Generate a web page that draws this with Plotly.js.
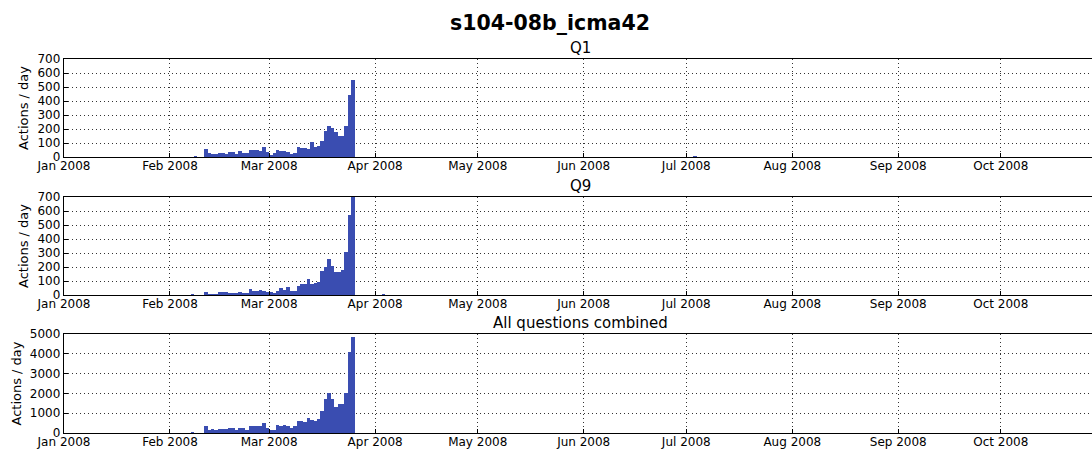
<!DOCTYPE html>
<html><head><meta charset="utf-8">
<script src="https://cdn.plot.ly/plotly-3.0.1.min.js"></script>
<style>html,body{margin:0;padding:0;overflow:hidden;background:#fff;width:1092px;height:450px}#chart{width:1100px;height:450px}</style>
</head><body><div id="chart"></div>
<script>
const days = ['2008-02-07','2008-02-08',
 '2008-02-11','2008-02-12','2008-02-13','2008-02-14','2008-02-15','2008-02-16','2008-02-17','2008-02-18','2008-02-19','2008-02-20',
 '2008-02-21','2008-02-22','2008-02-23','2008-02-24','2008-02-25','2008-02-26','2008-02-27','2008-02-28','2008-02-29',
 '2008-03-01','2008-03-02','2008-03-03','2008-03-04','2008-03-05','2008-03-06','2008-03-07','2008-03-08','2008-03-09','2008-03-10',
 '2008-03-11','2008-03-12','2008-03-13','2008-03-14','2008-03-15','2008-03-16','2008-03-17','2008-03-18','2008-03-19','2008-03-20',
 '2008-03-21','2008-03-22','2008-03-23','2008-03-24','2008-03-25',
 '2008-03-27','2008-04-03','2008-07-03','2008-09-27'];
const q1 = [0, 8,
 56, 29, 22, 22, 27, 29, 22, 37, 37, 25, 44, 27, 32, 51, 51, 49, 46, 73, 39,
 12, 27, 52, 45, 40, 37, 22, 30, 75, 62, 62, 60, 110, 72, 77, 115, 187, 225, 207, 177, 152, 152, 220, 440, 547,
 0, 0, 4, 0];
const q9 = [7, 0,
 22, 10, 10, 10, 25, 25, 22, 17, 12, 15, 25, 17, 12, 40, 30, 32, 35, 32, 25,
 25, 12, 30, 47, 35, 60, 32, 32, 62, 77, 77, 112, 82, 87, 95, 172, 202, 255, 210, 162, 167, 182, 310, 570, 698,
 0, 4, 0, 0];
const combined = [35, 0,
 360, 155, 207, 155, 190, 190, 207, 260, 275, 172, 275, 260, 155, 345, 345, 345, 360, 500, 240,
 150, 150, 390, 355, 405, 355, 255, 340, 630, 630, 575, 745, 645, 610, 730, 1120, 1700, 2020, 1730, 1305, 1460, 1475, 2020, 4070, 4850,
 25, 20, 0, 20];
const panelTitles = ['Q1', 'Q9', 'All questions combined'];
const mainTitle = 's104-08b_icma42';
const yTitle = 'Actions / day';

const H = 450, W = 1100;
const barColor = '#3a4db1';
const DAY = 86400000;
const fontFam = 'DejaVu Sans, sans-serif';
const panels = [
  {vals: q1, top: 59, bot: 157, max: 700, dtick: 100},
  {vals: q9, top: 197, bot: 295, max: 700, dtick: 100},
  {vals: combined, top: 334, bot: 433, max: 5000, dtick: 1000}
];
const traces = [];
const layout = {
  width: W, height: H,
  margin: {l: 0, r: 0, t: 0, b: 0},
  paper_bgcolor: '#fff', plot_bgcolor: '#fff',
  showlegend: false, bargap: 0,
  font: {family: fontFam, size: 12, color: '#000'},
  title: {text: '<b>' + mainTitle + '</b>', x: 0.5, xref: 'paper', xanchor: 'center',
          y: 1 - 23 / H, yref: 'container', yanchor: 'middle',
          font: {family: fontFam, size: 20.5, color: '#000'}},
  annotations: []
};
const xd = [64 / W, 1096 / W];
const gridDash = '1px,3px';
panels.forEach((p, i) => {
  const n = i === 0 ? '' : String(i + 1);
  traces.push({
    type: 'bar', x: days, y: p.vals, xaxis: 'x' + n, yaxis: 'y' + n,
    width: days.map(() => DAY), offset: 0,
    marker: {color: barColor, line: {width: 0}}, hoverinfo: 'x+y'
  });
  const dom = [1 - p.bot / H, 1 - p.top / H];
  layout['xaxis' + n] = {
    domain: xd, anchor: 'y' + n, type: 'date',
    range: ['2008-01-01', '2008-10-28 20:00'],
    tick0: '2008-01-01', dtick: 'M1', tickformat: '%b %Y',
    ticks: 'inside', ticklen: 4, tickcolor: '#000', ticklabelstandoff: -3,
    showgrid: true, gridcolor: '#333', gridwidth: 1, griddash: gridDash,
    showline: true, linecolor: '#000', linewidth: 1.3, mirror: true,
    tickfont: {family: fontFam, size: 12, color: '#000'}, automargin: false
  };
  layout['yaxis' + n] = {
    domain: dom, anchor: 'x' + n, range: [0, p.max], dtick: p.dtick, tick0: 0,
    ticks: 'inside', ticklen: 4, tickcolor: '#000',
    showgrid: true, gridcolor: '#333', gridwidth: 1, griddash: gridDash,
    showline: true, linecolor: '#000', linewidth: 1.3, mirror: true, zeroline: false,
    tickfont: {family: fontFam, size: 12, color: '#000'},
    title: {text: yTitle, font: {family: fontFam, size: 13, color: '#000'}, standoff: 5},
    automargin: false
  };
  layout.annotations.push({
    text: panelTitles[i], xref: 'paper', yref: 'paper', x: (xd[0] + xd[1]) / 2, y: dom[1],
    xanchor: 'center', yanchor: 'bottom', yshift: 0, showarrow: false,
    font: {family: fontFam, size: 15, color: '#000'}
  });
});
Plotly.newPlot('chart', traces, layout, {staticPlot: true});
</script></body></html>
